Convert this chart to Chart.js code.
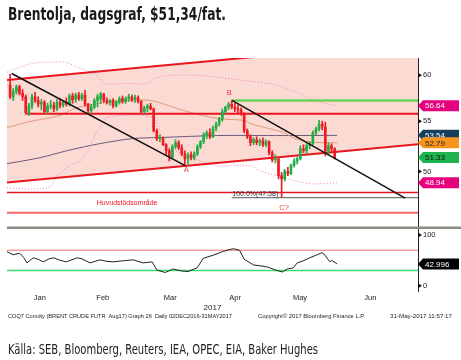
<!DOCTYPE html>
<html>
<head>
<meta charset="utf-8">
<script src="https://cdn.jsdelivr.net/npm/chart.js@4.4.1/dist/chart.umd.min.js"></script>
<style>
html, body { margin: 0; padding: 0; background: #fff; }
#wrap { position: relative; width: 461px; height: 360px; overflow: hidden; }
#c { position: absolute; left: 0; top: 0; }
.txt { position: absolute; white-space: nowrap; transform-origin: 0 0; color: #1a1a1a; }
#title { left: 8px; top: 6px; font: bold 17px/17px "Liberation Sans Narrow", "DejaVu Sans Condensed", sans-serif; }
#src { left: 8px; top: 342px; font: 14px/14px "Liberation Sans Narrow", "DejaVu Sans Condensed", sans-serif; color: #222; }
</style>
</head>
<body>
<div id="wrap">
<canvas id="c" width="461" height="360"></canvas>
<div id="title" class="txt" data-w="218">Brentolja, dagsgraf, $51,34/fat.</div>
<div id="src" class="txt" data-w="310">Källa: SEB, Bloomberg, Reuters, IEA, OPEC, EIA, Baker Hughes</div>
</div>
<script>

// daily candles, 3 Jan - 31 May 2017 (one entry per trading day)
var opens  = [58.9,57.6,58.2,58.7,58.0,57.6,55.9,56.6,57.6,57.2,56.8,57.0,56.0,56.6,56.7,56.3,57.0,56.7,57.0,56.8,57.7,
              57.3,57.8,57.4,57.8,56.8,56.1,56.5,57.2,57.4,57.9,57.2,57.0,57.2,56.6,57.0,57.4,57.1,57.4,57.6,57.3,
              57.5,57.1,56.0,56.4,56.6,56.3,54.0,53.2,53.3,52.6,52.0,51.4,52.4,52.8,52.3,51.7,51.2,51.6,51.3,51.7,52.4,52.9,53.6,
              53.8,53.4,54.3,54.7,55.2,56.0,56.5,56.8,56.5,56.3,56.2,55.8,54.0,53.4,52.8,53.1,52.8,53.0,52.6,
              52.9,51.8,51.1,51.2,49.6,49.3,50.0,49.8,50.6,51.0,51.2,52.2,52.0,52.5,52.7,53.8,54.2,54.7,54.4,52.0,52.5,52.2];
var highs  = [60.1,58.5,58.9,58.9,58.4,57.8,56.9,57.9,58.1,57.6,57.3,57.2,56.9,57.2,57.0,57.3,57.4,57.2,57.5,57.9,58.0,
              58.0,58.1,58.0,58.3,56.9,56.8,57.4,57.9,58.1,58.0,57.5,57.3,57.4,57.2,57.6,57.7,57.6,57.9,57.8,57.8,
              57.7,57.2,56.6,56.8,56.9,56.4,54.2,53.6,53.4,52.7,52.2,52.6,53.1,53.0,52.6,52.0,51.8,51.9,51.9,52.6,53.0,53.8,54.0,
              54.2,54.5,54.9,55.4,56.3,56.6,57.0,57.2,56.9,56.7,56.4,55.9,54.2,53.6,53.3,53.4,53.2,53.3,53.1,
              53.0,52.0,51.6,51.3,49.9,50.2,50.4,50.7,51.2,51.4,52.5,52.6,52.7,52.9,54.0,54.4,55.1,55.0,54.9,52.8,52.7,52.3];
var lows   = [57.4,57.2,57.9,57.8,57.2,55.7,55.6,56.3,57.0,56.5,56.2,55.8,55.8,56.3,56.0,56.1,56.4,56.5,56.6,56.6,56.9,
              57.0,57.2,57.2,56.6,55.9,55.8,56.3,56.5,56.9,57.0,56.8,56.7,56.4,56.5,56.8,56.9,56.9,57.1,57.1,57.0,
              56.9,55.8,55.8,56.0,56.2,53.9,53.0,52.9,52.5,51.6,51.0,51.3,52.2,52.1,51.5,50.6,50.7,51.1,51.1,51.5,52.2,52.7,53.2,
              53.2,53.3,54.0,54.5,55.0,55.8,56.2,56.3,56.0,55.9,55.6,53.8,53.2,52.5,52.6,52.6,52.5,52.4,52.4,
              51.6,50.9,50.8,49.3,47.6,49.1,49.6,49.7,50.4,50.7,51.1,51.8,51.7,52.2,52.6,53.6,54.0,54.1,51.5,51.6,51.9,51.2];
var closes = [57.6,58.2,58.7,58.0,57.6,55.9,56.6,57.6,57.2,56.8,57.0,56.0,56.6,56.7,56.3,57.0,56.7,57.0,56.8,57.7,57.3,
              57.8,57.4,57.8,56.8,56.1,56.5,57.2,57.6,57.9,57.2,57.0,57.2,56.6,57.0,57.4,57.1,57.4,57.6,57.3,57.5,
              57.1,56.0,56.4,56.6,56.3,54.0,53.2,53.3,52.6,52.0,51.4,52.4,52.8,52.3,51.7,51.2,51.6,51.3,51.7,52.4,52.9,53.6,53.8,
              53.4,54.3,54.7,55.2,56.0,56.5,56.8,56.5,56.3,56.2,55.8,54.0,53.4,52.8,53.1,52.8,53.0,52.6,52.9,
              51.8,51.1,51.2,49.6,49.3,50.0,49.8,50.6,51.0,51.2,52.2,52.0,52.5,52.7,53.8,54.2,54.7,54.4,52.0,52.5,52.2,51.33];

// [trading-day index, price] points
var bbUpper = [[-1,60.35],[3.2,60.93],[7.4,61.39],[12.8,61.51],[17.6,61.51],[22.4,60.81],[27.2,60.12],[30.4,59.09],
               [36.9,59.09],[44.2,59.09],[46.5,59.66],[51.3,60.0],[55.4,60.0],[60.9,60.0],[66.3,59.77],[74.7,59.43],
               [82.4,59.09],[85.9,58.87],[89.7,58.32],[92.9,57.98],[96.8,57.2],[99.4,57.0],[104.5,56.64]];
var bbLower = [[-1,48.47],[3.2,48.38],[9,48.38],[12.8,48.56],[15.4,49.69],[19.2,50.55],[22.4,51.03],[24.7,51.81],
               [27.2,53.52],[28.8,54.34],[31.1,55.39],[45.8,55.39],[48.7,53.32],[51.3,52.21],[55.4,51.71],[60.9,51.03],
               [66.3,50.55],[76.9,50.55],[80.1,50.07],[85.6,49.59],[91.3,49.12],[96.8,48.84],[104.8,48.94]];
var maShort = [[-1,54.34],[6.4,54.97],[16,55.6],[21.5,56.45],[31.1,57.0],[39.1,57.21],[44.9,57.21],[50.6,56.67],
               [55.4,56.13],[66.3,55.29],[75.3,55.07],[76.9,54.76],[87.5,53.83],[91.3,53.22],[96.8,52.85],[104.8,52.79]];
var maLong  = [[-1,50.74],[9.6,51.32],[18.3,52.01],[28.8,52.71],[39.4,53.22],[48.1,53.32],[66.3,53.52],[87.5,53.52],[104.8,53.54]];

var channelUpper = [[-1,59.46],[130.7,63.95]];
var channelLower = [[-1,48.96],[130.7,52.65]];
var trendAB = [[0.5,60.2],[56.1,50.55]];
var trendBC = [[71.1,57.21],[126.6,47.53]];
var resistance = [[5.4,55.78],[130.7,55.78]];
var levelB = [[71,57.21],[130.7,57.21]];
var fibLevel = [[71,47.58],[130.7,47.58]];
var supportTop = [[-1,48.04],[130.7,48.04]];
var supportBottom = [[-1,46.24],[130.7,46.24]];

var rsiPts = [[-1,67],[1,61],[3,64],[4.3,56],[5.4,45],[7.4,55],[9,52],[10.6,47],[12.5,53],[14,55],[16,50],[18,47],
              [21.5,55],[23,53],[25.6,45],[28.8,51],[31,48],[33,47],[36,49],[39.4,51],[42.6,45],[45.5,47],[47,31],
              [49.7,26],[52.2,33],[55,29],[57,28],[59.9,35],[61.9,54],[65,60],[68,67],[69.5,70],[71.5,73],[73.5,70],
              [75,52],[78,41],[82.4,37],[85.5,30],[87.2,27],[88.8,33],[90.7,35],[92,45],[93.9,49],[96,55],[98,60],
              [99.9,65],[100.5,63],[102.5,47],[103,50],[104.8,43]];
var rsiHigh = [[-1,70],[130.7,70]];
var rsiLow  = [[-1,30],[130.7,30]];

var monthNames = ['Jan','Feb','Mar','Apr','May','Jun'];
var monthPos = [9.5, 29.7, 51.3, 72.1, 92.9, 115.4];
var priceTicks = [50, 55, 60];
var rsiTicks = [0, 100];

var flagValues = [56.64, 53.54, 52.79, 51.33, 48.94];
var flagFill = ['#E5007D', '#163F5E', '#F7941D', '#1DB34F', '#E5007D'];
var flagInk = ['#fff', '#fff', '#222', '#111', '#fff'];
var rsiLast = 42.996;

var noteText  = ['A', 'B', 'C?', 'Huvudstödsområde', '100.0%(47.58)'];
var noteIdx   = [56.4, 70.2, 87.8, 37.5, 71.2];
var notePrice = [50.16, 57.98, 46.66, 47.10, 47.92];
var noteColor = ['#F03A3A', '#F03A3A', '#F03A3A', '#E8161E', '#333'];
var noteAlign = ['center', 'center', 'center', 'center', 'left'];

var footLeft = 'COQ7 Comdty (BRENT CRUDE FUTR  Aug17) Graph 26  Daily 02DEC2016-31MAY2017';
var footMid = 'Copyright\u00A9 2017 Bloomberg Finance L.P.';
var footRight = '31-May-2017 11:57:17';

var FONT = '"Liberation Sans", Arial, sans-serif';

function toXY(pts){
	return pts.map(function(p){ return {x: p[0], y: p[1]}; });
}

function lineSet(pts, color, width, extra){
	var ds = {
		type: 'line',
		data: toXY(pts),
		borderColor: color,
		borderWidth: width,
		pointRadius: 0,
		fill: false,
		tension: 0,
		yAxisID: 'y',
		order: 3
	};
	for (var k in extra) { ds[k] = extra[k]; }
	return ds;
}

var days = opens.map(function(o, i){ return i; });
var candleColors = days.map(function(i){ return closes[i] >= opens[i] ? '#20AE45' : '#EE1C25'; });
var wickData = days.map(function(i){ return {x: i, y: [lows[i], highs[i]]}; });
var bodyData = days.map(function(i){
	var a = opens[i], b = closes[i];
	if (Math.abs(a - b) < 0.06) { b = a + 0.06; }
	return {x: i, y: [a, b]};
});

var datasets = [
	lineSet(channelUpper, 'rgba(0,0,0,0)', 0, {order: 20}),
	lineSet(channelLower, 'rgba(0,0,0,0)', 0, {order: 20, fill: '-1', backgroundColor: '#FCDAD4'}),
	lineSet(bbUpper, '#F07DB8', 1, {order: 5, borderDash: [1, 2], tension: 0.3}),
	lineSet(bbLower, '#F07DB8', 1, {order: 5, borderDash: [1, 2], tension: 0.3}),
	lineSet(maShort, '#E39A78', 1, {order: 5, tension: 0.3}),
	lineSet(maLong, '#6C5A7E', 1, {order: 5, tension: 0.3}),
	lineSet(channelUpper, '#E8161E', 2),
	lineSet(channelLower, '#E8161E', 2),
	lineSet(resistance, '#E8161E', 2),
	lineSet(levelB, '#6BD35A', 2.5),
	lineSet(supportTop, '#E8161E', 1.5),
	lineSet(supportBottom, '#F26B6B', 2),
	lineSet(fibLevel, '#777', 1.2),
	{
		type: 'bar', data: wickData, backgroundColor: candleColors,
		barThickness: 1, grouped: false, borderWidth: 0, yAxisID: 'y', order: 2
	},
	{
		type: 'bar', data: bodyData, backgroundColor: candleColors,
		barThickness: 2, grouped: false, borderWidth: 0, yAxisID: 'y', order: 2
	},
	lineSet(trendAB, '#111', 1.5, {order: 1}),
	lineSet(trendBC, '#111', 1.5, {order: 1}),
	lineSet(rsiHigh, '#F26D6D', 1, {yAxisID: 'yr'}),
	lineSet(rsiLow, '#3DDC6B', 1.5, {yAxisID: 'yr'}),
	lineSet(rsiPts, '#222', 1, {yAxisID: 'yr', order: 1})
];

function fitText(ctx, text, x, y, w){
	var m = ctx.measureText(text).width;
	ctx.save();
	ctx.translate(x, y);
	ctx.scale(w / m, 1);
	ctx.fillText(text, 0, 0);
	ctx.restore();
}

function drawFlag(ctx, x, y, text, bg, ink){
	ctx.fillStyle = bg;
	ctx.beginPath();
	ctx.moveTo(x, y);
	ctx.lineTo(x + 5, y - 5.5);
	ctx.lineTo(x + 41, y - 5.5);
	ctx.lineTo(x + 41, y + 5.5);
	ctx.lineTo(x + 5, y + 5.5);
	ctx.closePath();
	ctx.fill();
	ctx.fillStyle = ink;
	ctx.font = '8px ' + FONT;
	ctx.textAlign = 'left';
	ctx.textBaseline = 'middle';
	ctx.fillText(text, x + 7, y + 0.5);
}

var overlay = {
	id: 'overlay',
	afterDraw: function(chart){
		var ctx = chart.ctx, ys = chart.scales.y, rs = chart.scales.yr, xs = chart.scales.x, ca = chart.chartArea;
		ctx.save();

		// separator between price panel and RSI panel
		ctx.fillStyle = '#8d8d86';
		ctx.fillRect(ca.left, ys.bottom - 0.5, chart.width - ca.left, 2.5);

		// tick arrows on the right axis
		ctx.fillStyle = '#111';
		function arrow(py){
			ctx.beginPath();
			ctx.moveTo(ca.right, py - 2.5);
			ctx.lineTo(ca.right + 4, py);
			ctx.lineTo(ca.right, py + 2.5);
			ctx.closePath();
			ctx.fill();
		}
		priceTicks.forEach(function(v){ arrow(ys.getPixelForValue(v)); });
		rsiTicks.forEach(function(v){ arrow(rs.getPixelForValue(v)); });

		// last-value flags
		flagValues.forEach(function(v, i){
			drawFlag(ctx, ca.right, ys.getPixelForValue(v), v.toFixed(2), flagFill[i], flagInk[i]);
		});
		drawFlag(ctx, ca.right, rs.getPixelForValue(rsiLast), rsiLast.toFixed(3), '#000', '#fff');

		// chart notes
		ctx.textBaseline = 'middle';
		noteText.forEach(function(t, i){
			ctx.fillStyle = noteColor[i];
			ctx.textAlign = noteAlign[i];
			ctx.font = (i < 3 ? '7.5px ' : '7px ') + FONT;
			ctx.fillText(t, xs.getPixelForValue(noteIdx[i]), ys.getPixelForValue(notePrice[i]));
		});

		// Bloomberg footer
		ctx.fillStyle = '#222';
		ctx.textAlign = 'left';
		ctx.font = '6px ' + FONT;
		fitText(ctx, footLeft, 8, 316.5, 224);
		fitText(ctx, footMid, 258, 316.5, 107);
		fitText(ctx, footRight, 390, 316.5, 62);

		ctx.restore();
	}
};

var tickFont = {family: FONT, size: 7.5};

new Chart(document.getElementById('c'), {
	type: 'bar',
	data: {datasets: datasets},
	options: {
		responsive: false,
		animation: false,
		events: [],
		layout: {padding: {left: 7, top: 58, right: 0, bottom: 47}},
		plugins: {legend: {display: false}, tooltip: {enabled: false}},
		scales: {
			x: {
				type: 'linear', min: -1, max: 130.7, offset: false, bounds: 'data',
				grid: {display: false, drawTicks: false, offset: false},
				border: {display: false},
				afterBuildTicks: function(s){ s.ticks = monthPos.map(function(v){ return {value: v}; }); },
				ticks: {
					autoSkip: false, maxRotation: 0, padding: 2, color: '#222', font: tickFont,
					callback: function(v, i){ return monthNames[i]; }
				},
				title: {display: true, text: '2017', color: '#222', font: {family: FONT, size: 8}, padding: 0},
				afterFit: function(s){ s.height = 22; }
			},
			y: {
				type: 'logarithmic', position: 'right', stack: 'panels', stackWeight: 169,
				min: 45, max: 62, bounds: 'data',
				grid: {display: false, drawTicks: false},
				border: {display: true, color: '#222', width: 1},
				afterBuildTicks: function(s){ s.ticks = priceTicks.map(function(v){ return {value: v}; }); },
				ticks: {padding: 5, color: '#222', font: tickFont, callback: function(v){ return String(v); }},
				afterFit: function(s){ s.width = 43; }
			},
			yr: {
				type: 'linear', position: 'right', stack: 'panels', stackWeight: 64,
				min: -10.5, max: 115.8, bounds: 'data',
				grid: {display: false, drawTicks: false},
				border: {display: true, color: '#222', width: 1},
				afterBuildTicks: function(s){ s.ticks = rsiTicks.map(function(v){ return {value: v}; }); },
				ticks: {padding: 5, color: '#222', font: tickFont, callback: function(v){ return String(v); }},
				afterFit: function(s){ s.width = 43; }
			}
		}
	},
	plugins: [overlay]
});

// squeeze the headline and source line to the widths seen in the picture
Array.prototype.forEach.call(document.querySelectorAll('.txt'), function(el){
	var w = el.getBoundingClientRect().width;
	var target = parseFloat(el.getAttribute('data-w'));
	el.style.transform = 'scaleX(' + (target / w) + ')';
});
</script>
</body>
</html>
